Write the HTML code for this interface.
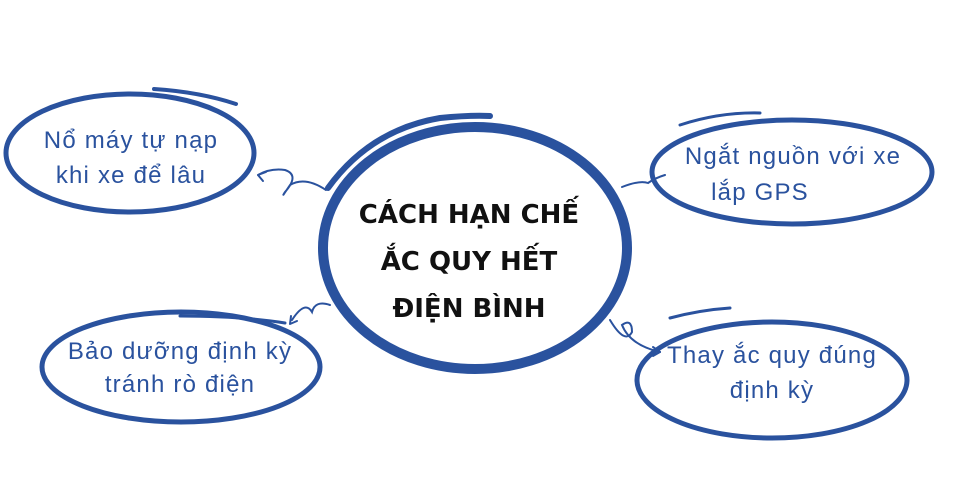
<!DOCTYPE html>
<html><head><meta charset="utf-8"><style>
body{margin:0;background:#fff;width:960px;height:500px;overflow:hidden}
svg{display:block}
</style></head><body>
<svg width="960" height="500" viewBox="0 0 960 500" xmlns="http://www.w3.org/2000/svg">
<g fill="none" stroke="#2a529e" stroke-linecap="round">
<ellipse cx="475" cy="248" rx="152" ry="121" stroke-width="10"/>
<path d="M328 188 Q370 130 440 118 Q470 115 490 116" stroke-width="6"/>
<ellipse cx="130" cy="153" rx="124" ry="59" stroke-width="5"/>
<path d="M154 89 Q200 92 236 104" stroke-width="4"/>
<ellipse cx="792" cy="172" rx="140" ry="52" stroke-width="5"/>
<path d="M680 125 Q720 112 760 113" stroke-width="3"/>
<ellipse cx="181" cy="367" rx="139" ry="55" stroke-width="5"/>
<path d="M180 316 Q240 316 285 323" stroke-width="3"/>
<ellipse cx="772" cy="380" rx="135" ry="58" stroke-width="5"/>
<path d="M670 318 Q700 310 730 308" stroke-width="3"/>
<path d="M326 190 Q305 176 290 185 Q280 200 285 192 Q300 175 285 170 Q270 168 258 175" stroke-width="2"/>
<path d="M258 175 l8 -3 M258 175 l5 6" stroke-width="2"/>
<path d="M330 305 Q315 300 312 312 Q305 300 292 320" stroke-width="2"/>
<path d="M290 324 l1 -8 M290 324 l7 -3" stroke-width="2"/>
<path d="M622 187 Q640 180 648 183 Q655 178 665 175" stroke-width="2"/>
<path d="M610 320 Q625 345 632 332 Q632 318 622 325 Q630 345 660 352" stroke-width="2"/>
<path d="M660 352 l-7 -5 M660 352 l-7 4" stroke-width="2"/>
</g>
<g font-family="Liberation Sans, DejaVu Sans, sans-serif" fill="#2a529e" font-size="24" letter-spacing="1.2" text-anchor="middle">
<text x="131" y="148">Nổ máy tự nạp</text>
<text x="131" y="183">khi xe để lâu</text>
<text x="793" y="164">Ngắt nguồn với xe</text>
<text x="760" y="200">lắp GPS</text>
<text x="180" y="359">Bảo dưỡng định kỳ</text>
<text x="180" y="392">tránh rò điện</text>
<text x="772" y="363">Thay ắc quy đúng</text>
<text x="772" y="398">định kỳ</text>
</g>
<g font-family="DejaVu Sans, Liberation Sans, sans-serif" fill="#111" font-size="26" font-weight="bold" text-anchor="middle">
<text x="469" y="223">CÁCH HẠN CHẾ</text>
<text x="469" y="270">ẮC QUY HẾT</text>
<text x="469" y="317">ĐIỆN BÌNH</text>
</g>
</svg>
</body></html>
